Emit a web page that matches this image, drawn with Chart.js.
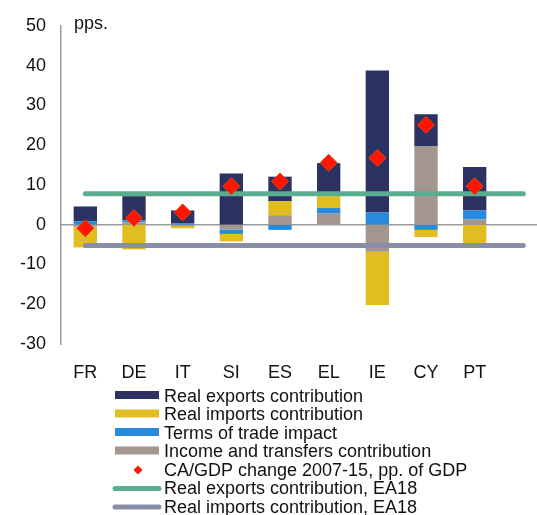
<!DOCTYPE html>
<html>
<head>
<meta charset="utf-8">
<script src="https://cdn.jsdelivr.net/npm/chart.js@4/dist/chart.umd.min.js"></script>
<style>
  html, body { margin: 0; padding: 0; background: #fff; }
  #wrap { width: 537px; height: 515px; }
</style>
</head>
<body>
<div id="wrap"><canvas id="ca-chart" width="537" height="515"></canvas></div>
<script>
// values (pps.)
var categories = ['FR', 'DE', 'IT', 'SI', 'ES', 'EL', 'IE', 'CY', 'PT'];
var realExports = [3.7, 6.1, 3.3, 12.9, 6.2, 8.3, 35.7, 8.0, 10.9];
var realImports = [-5.2, -6.2, -0.6, -1.9, 3.5, 3.0, -13.4, -1.8, -4.6];
var termsOfTrade = [0.9, 0.5, 0.3, -1.1, -1.3, 1.4, 3.1, -1.3, 2.3];
var incomeTransfers = [-0.5, 0.6, -0.3, -1.2, 2.4, 2.8, -6.8, 19.8, 1.3];
var caChange = [-0.9, 1.7, 3.1, 9.7, 10.9, 15.6, 16.8, 25.1, 9.7];
var ea18Exports = 7.8;
var ea18Imports = -5.2;
var yTicks = [50, 40, 30, 20, 10, 0, -10, -20, -30];

var FONT = '"Liberation Sans", Arial, sans-serif';

// bars are listed bottom-to-top for the stacking, legendRank keeps the legend order
var datasets = [
    { label: 'Income and transfers contribution', legendRank: 3, data: incomeTransfers, backgroundColor: '#a2968e' },
    { label: 'Terms of trade impact', legendRank: 2, data: termsOfTrade, backgroundColor: '#2889dd' },
    { label: 'Real imports contribution', legendRank: 1, data: realImports, backgroundColor: '#e2bd22' },
    { label: 'Real exports contribution', legendRank: 0, data: realExports, backgroundColor: '#2c3363' }
].map(function(d) {
    d.type = 'bar';
    d.stack = 'bars';
    d.order = 0;
    d.grouped = false;
    d.barPercentage = 0.48;
    d.categoryPercentage = 1;
    return d;
});

datasets.push({
    type: 'line', label: 'CA/GDP change 2007-15, pp. of GDP', legendRank: 4,
    data: caChange, stack: 'ca', order: -2, showLine: false,
    pointStyle: 'rectRot', pointRadius: 8.5, pointBackgroundColor: '#ff1500',
    pointBorderColor: '#d9480f', pointBorderWidth: 1, clip: false
});
datasets.push({
    type: 'line', label: 'Real exports contribution, EA18', legendRank: 5,
    xAxisID: 'x2', stack: 'ea1', order: -1,
    data: [{ x: 0.5, y: ea18Exports }, { x: 9.5, y: ea18Exports }],
    borderColor: '#5aae8f', borderWidth: 5, borderCapStyle: 'round', pointRadius: 0, clip: false
});
datasets.push({
    type: 'line', label: 'Real imports contribution, EA18', legendRank: 6,
    xAxisID: 'x2', stack: 'ea2', order: -1,
    data: [{ x: 0.5, y: ea18Imports }, { x: 9.5, y: ea18Imports }],
    borderColor: '#898ea8', borderWidth: 5, borderCapStyle: 'round', pointRadius: 0, clip: false
});

// zero line (runs past the plot to the right edge) and the "pps." note
var zeroLine = {
    id: 'zeroLine',
    beforeDatasetsDraw: function(chart) {
        var ctx = chart.ctx, y = chart.scales.y.getPixelForValue(0);
        ctx.save();
        ctx.strokeStyle = '#9a9a9a';
        ctx.lineWidth = 1.5;
        ctx.beginPath();
        ctx.moveTo(chart.chartArea.left, y);
        ctx.lineTo(chart.width, y);
        ctx.stroke();
        ctx.fillStyle = '#111';
        ctx.font = '18px ' + FONT;
        ctx.textBaseline = 'middle';
        ctx.fillText('pps.', 74, 24);
        ctx.restore();
    }
};

// legend in one column, drawn by hand
var columnLegend = {
    id: 'columnLegend',
    afterDraw: function(chart) {
        var ctx = chart.ctx;
        var sets = chart.data.datasets.slice().sort(function(a, b) { return a.legendRank - b.legendRank; });
        ctx.save();
        ctx.font = '18px ' + FONT;
        ctx.textBaseline = 'middle';
        sets.forEach(function(ds, i) {
            var y = 396 + i * 18.5;
            if (ds.type === 'bar') {
                ctx.fillStyle = ds.backgroundColor;
                ctx.fillRect(115, y - 5, 44, 8);
            } else if (ds.showLine === false) {
                ctx.fillStyle = ds.pointBackgroundColor;
                ctx.beginPath();
                ctx.moveTo(138, y - 4.5);
                ctx.lineTo(142.5, y);
                ctx.lineTo(138, y + 4.5);
                ctx.lineTo(133.5, y);
                ctx.closePath();
                ctx.fill();
            } else {
                ctx.strokeStyle = ds.borderColor;
                ctx.lineWidth = 5;
                ctx.lineCap = 'round';
                ctx.beginPath();
                ctx.moveTo(115, y);
                ctx.lineTo(159, y);
                ctx.stroke();
            }
            ctx.fillStyle = '#111';
            ctx.fillText(ds.label, 164, y + 1);
        });
        ctx.restore();
    }
};

new Chart(document.getElementById('ca-chart'), {
    type: 'bar',
    data: { labels: categories, datasets: datasets },
    options: {
        responsive: false,
        animation: false,
        layout: { padding: { top: 26, right: 38, left: 0, bottom: 0 } },
        plugins: { legend: { display: false }, tooltip: { enabled: false } },
        scales: {
            x: {
                stacked: true,
                grid: { display: false },
                border: { display: false },
                ticks: { color: '#111', font: { family: FONT, size: 18 }, padding: 10 },
                afterFit: function(s) { s.height = 171; }
            },
            x2: { type: 'linear', display: false, offset: false, min: 0, max: 9 },
            y: {
                stacked: true,
                min: -30, max: 50,
                afterBuildTicks: function(s) { s.ticks = yTicks.map(function(v) { return { value: v }; }); },
                grid: { display: false, drawTicks: false },
                border: { display: true, color: '#9a9a9a', width: 1.5 },
                ticks: { color: '#111', font: { family: FONT, size: 18 }, padding: 15 },
                afterFit: function(s) { s.width = 61; }
            }
        }
    },
    plugins: [zeroLine, columnLegend]
});
</script>
</body>
</html>
